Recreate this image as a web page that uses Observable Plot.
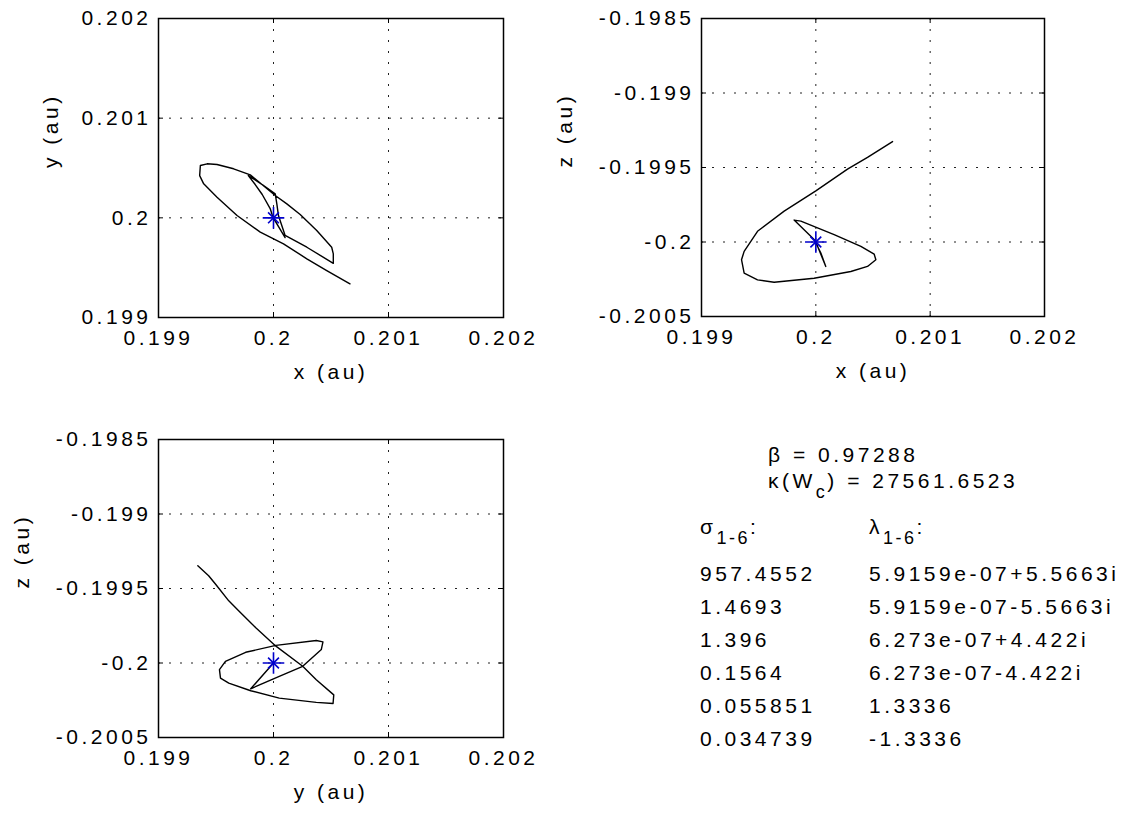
<!DOCTYPE html>
<html>
<head>
<meta charset="utf-8">
<script src="https://cdn.jsdelivr.net/npm/d3@7"></script>
<script src="https://cdn.jsdelivr.net/npm/@observablehq/plot@0.6"></script>
<style>
  body { margin: 0; background: #fff; }
  #fig { position: relative; width: 1128px; height: 817px; background: #fff;
         font-family: "Liberation Sans", Arial, sans-serif; color: #000; }
  #fig svg { position: absolute; }
  .info { position: absolute; font-size: 21px; line-height: 21px; letter-spacing: 3.5px; white-space: nowrap; }
  .sub { font-size: 18px; position: relative; top: 10px; letter-spacing: 2.5px; }
</style>
</head>
<body>
<div id="fig"></div>
<script>
// Axis ticks shared by the three projections
const posTicks = [0.199, 0.2, 0.201, 0.202];
const zTicks = [-0.2005, -0.2, -0.1995, -0.199, -0.1985];

// Equilibrium point (marked with a blue asterisk)
const eqX = 0.2, eqY = 0.2, eqZ = -0.2;

// Trajectory projected on the x–y plane
const xyX = [0.2, 0.200049, 0.200101, 0.200045, 0.199995, 0.199971, 0.199902, 0.199841, 0.199781,
  0.199902, 0.200015, 0.200029, 0.200043, 0.200072, 0.200101, 0.20029, 0.20052, 0.20052, 0.200506,
  0.200376, 0.200232, 0.200116, 0.200015, 0.199798, 0.199653, 0.199509, 0.199423, 0.199364, 0.199358,
  0.199393, 0.199509, 0.199683, 0.199885, 0.200087, 0.20029, 0.200463, 0.200665];
const xyY = [0.2, 0.199903, 0.199802, 0.19991, 0.200005, 0.200093, 0.200234, 0.200334, 0.200424,
  0.200334, 0.20024, 0.20014, 0.200023, 0.199923, 0.199823, 0.199705, 0.199544, 0.199639, 0.199705,
  0.199873, 0.200033, 0.20014, 0.200224, 0.200431, 0.200492, 0.200535, 0.200542, 0.200525, 0.200424,
  0.200341, 0.200207, 0.200023, 0.199856, 0.199739, 0.199589, 0.199471, 0.199338];

// Trajectory projected on the x–z plane
const xzX = [0.2, 0.200087, 0.200044, 0.199985, 0.19981, 0.199869, 0.20016, 0.200394, 0.20051,
  0.200525, 0.200452, 0.200306, 0.199985, 0.199635, 0.19949, 0.199373, 0.19935, 0.199373, 0.19949,
  0.199723, 0.2, 0.200277, 0.200452, 0.200671];
const xzZ = [-0.2, -0.200164, -0.200074, -0.199984, -0.199853, -0.19986, -0.19995, -0.200029,
  -0.200081, -0.200119, -0.200164, -0.200198, -0.200243, -0.20027, -0.200254, -0.200209, -0.200119,
  -0.200063, -0.199928, -0.199793, -0.199657, -0.199511, -0.199432, -0.199326];

// Trajectory projected on the y–z plane
const yzY = [0.2, 0.199802, 0.20005, 0.200254, 0.200416, 0.20043, 0.200372, 0.200021, 0.199758,
  0.199582, 0.19953, 0.199539, 0.199611, 0.199802, 0.20005, 0.200372, 0.200518, 0.200524, 0.200372,
  0.200254, 0.200021, 0.199846, 0.199699, 0.199611, 0.199495, 0.199436, 0.199342];
const yzZ = [-0.2, -0.200173, -0.20009, -0.200022, -0.199909, -0.199858, -0.199849, -0.199882,
  -0.199928, -0.199989, -0.200045, -0.200101, -0.200135, -0.200186, -0.200236, -0.200264, -0.200272,
  -0.200214, -0.200112, -0.200022, -0.199887, -0.199764, -0.199651, -0.199583, -0.19947, -0.199414,
  -0.199347];

// Stability summary
const beta = "0.97288";
const kappa = "27561.6523";
const sigmas = ["957.4552", "1.4693", "1.396", "0.1564", "0.055851", "0.034739"];
const lambdas = ["5.9159e-07+5.5663i", "5.9159e-07-5.5663i", "6.273e-07+4.422i",
  "6.273e-07-4.422i", "1.3336", "-1.3336"];

const fig = document.getElementById("fig");
// shortest decimal form, with a plain hyphen for negatives
const fmt = d => String(+d.toFixed(4));
const FONT = "'Liberation Sans', Arial, sans-serif";

function panel({hx, vy, hDomain, vDomain, hTicks, vTicks, hLabel, vLabel, frame, svgBox, vLabelDx, eq}) {
  const [fl, ft, fr, fb] = frame;
  const [sl, st, sw, sh] = svgBox;
  const W = fr - fl, H = fb - ft;
  const pts = hx.map((v, i) => ({h: v, v: vy[i]}));
  const tickLen = 5;
  const svg = Plot.plot({
    width: sw, height: sh,
    marginLeft: fl - sl, marginTop: ft - st, marginRight: sl + sw - fr, marginBottom: st + sh - fb,
    style: {fontFamily: FONT, fontSize: "21px", letterSpacing: "3.5px", background: "transparent", color: "#000", overflow: "visible"},
    x: {domain: hDomain, ticks: hTicks, tickFormat: fmt, label: null},
    y: {domain: vDomain, ticks: vTicks, tickFormat: fmt, label: null},
    marks: [
      Plot.gridX(hTicks, {stroke: "#222", strokeOpacity: 1, strokeWidth: 1, strokeDasharray: "2,9"}),
      Plot.gridY(vTicks, {stroke: "#222", strokeOpacity: 1, strokeWidth: 1, strokeDasharray: "2,9"}),
      Plot.line(pts, {x: "h", y: "v", stroke: "#000", strokeWidth: 1.4, strokeLinejoin: "round"}),
      Plot.dot([eq], {x: "h", y: "v", symbol: "plus", r: 7, stroke: "#0000cc", strokeWidth: 1.6, fill: "none"}),
      Plot.dot([eq], {x: "h", y: "v", symbol: "times", r: 5, stroke: "#0000cc", strokeWidth: 1.6, fill: "none"}),
      // inward tick marks on all four sides
      Plot.ruleX(hTicks, {x: d => d, insetTop: H - tickLen, stroke: "#000"}),
      Plot.ruleX(hTicks, {x: d => d, insetBottom: H - tickLen, stroke: "#000"}),
      Plot.ruleY(vTicks, {y: d => d, insetRight: W - tickLen, stroke: "#000"}),
      Plot.ruleY(vTicks, {y: d => d, insetLeft: W - tickLen, stroke: "#000"}),
      Plot.frame({stroke: "#000", strokeWidth: 1.5}),
      Plot.axisX(hTicks, {tickSize: 0, tickPadding: 13, tickFormat: fmt, label: null, fontSize: 21}),
      Plot.axisY(vTicks, {tickSize: 0, tickPadding: 7, tickFormat: fmt, label: null, fontSize: 21}),
      Plot.text([hLabel], {frameAnchor: "bottom", text: d => d, dy: 61, fontSize: 21}),
      Plot.text([vLabel], {frameAnchor: "left", text: d => d, rotate: -90, dx: vLabelDx, fontSize: 21})
    ]
  });
  svg.style.left = sl + "px";
  svg.style.top = st + "px";
  fig.appendChild(svg);
}

panel({
  hx: xyX, vy: xyY, hDomain: [0.199, 0.202], vDomain: [0.199, 0.202],
  hTicks: posTicks, vTicks: posTicks, hLabel: "x (au)", vLabel: "y (au)",
  frame: [158, 18, 503, 317], svgBox: [0, 0, 560, 410], vLabelDx: -107, eq: {h: eqX, v: eqY}
});
panel({
  hx: xzX, vy: xzZ, hDomain: [0.199, 0.202], vDomain: [-0.2005, -0.1985],
  hTicks: posTicks, vTicks: zTicks, hLabel: "x (au)", vLabel: "z (au)",
  frame: [701, 18, 1044, 316], svgBox: [540, 0, 588, 410], vLabelDx: -136, eq: {h: eqX, v: eqZ}
});
panel({
  hx: yzY, vy: yzZ, hDomain: [0.199, 0.202], vDomain: [-0.2005, -0.1985],
  hTicks: posTicks, vTicks: zTicks, hLabel: "y (au)", vLabel: "z (au)",
  frame: [158, 439, 503, 737], svgBox: [0, 420, 560, 397], vLabelDx: -136, eq: {h: eqY, v: eqZ}
});

// Stability summary text block
function addInfo(html, left, top) {
  const d = document.createElement("div");
  d.className = "info";
  d.style.left = left + "px";
  d.style.top = top + "px";
  d.innerHTML = html;
  fig.appendChild(d);
}
addInfo(`β = ${beta}`, 768, 444);
addInfo(`κ(W<span class="sub">c</span>) = ${kappa}`, 768, 470);
addInfo(`σ<span class="sub">1-6</span>:`, 700, 516);
addInfo(`λ<span class="sub">1-6</span>:`, 869, 516);
sigmas.forEach((s, i) => addInfo(s, 700, 563 + 33 * i));
lambdas.forEach((s, i) => addInfo(s, 869, 563 + 33 * i));
</script>
</body>
</html>
